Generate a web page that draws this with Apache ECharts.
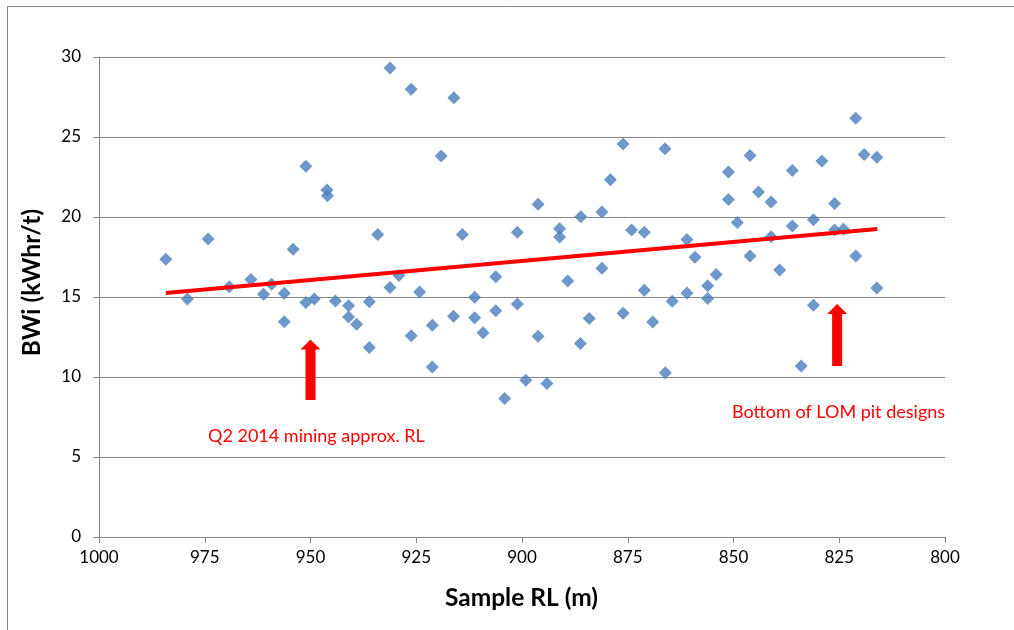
<!DOCTYPE html>
<html>
<head>
<meta charset="utf-8">
<script src="https://cdn.jsdelivr.net/npm/echarts@6/dist/echarts.min.js"></script>
<style>
html,body{margin:0;padding:0;background:#fff;}
#chart{width:1014px;height:630px;}
</style>
</head>
<body>
<div id="chart"></div>
<script>
// Sample RL (m)
const rlValues = [984.2,979.1,974.2,969.2,964.1,961.1,959.2,956.2,956.2,954.1,951.1,951.1,949.1,946.1,946.0,944.1,941.0,941.0,939.1,936.1,936.1,934.1,931.2,931.2,929.1,926.2,926.2,924.2,921.2,921.2,919.1,916.1,916.2,914.1,911.2,911.2,909.2,906.2,906.2,904.1,901.1,901.1,899.1,896.2,896.2,894.1,891.1,891.1,889.2,886.1,886.2,884.1,881.1,881.1,879.1,876.1,876.1,874.1,871.1,871.1,869.1,866.2,866.1,864.5,861.0,861.0,859.1,856.1,856.1,854.1,851.2,851.2,849.1,846.1,846.1,844.1,841.1,841.1,839.1,836.1,836.1,834.0,831.1,831.1,829.1,826.1,826.1,824.0,821.1,821.1,819.1,816.1,816.1];
// BWi (kWhr/t)
const bwiValues = [17.36,14.88,18.63,15.64,16.1,15.17,15.79,15.23,13.46,17.98,23.17,14.65,14.88,21.69,21.33,14.75,14.45,13.75,13.3,14.7,11.85,18.9,29.31,15.6,16.35,27.98,12.58,15.31,13.23,10.63,23.81,27.46,13.8,18.9,14.98,13.7,12.77,16.27,14.14,8.65,19.04,14.57,9.79,20.79,12.54,9.6,19.27,18.75,16.0,20.02,12.1,13.66,20.31,16.79,22.33,24.56,13.98,19.19,19.04,15.42,13.44,24.27,10.27,14.74,18.6,15.25,17.48,15.71,14.9,16.4,22.81,21.1,19.65,23.85,17.56,21.56,20.94,18.77,16.69,22.9,19.44,10.69,19.83,14.48,23.5,20.85,19.19,19.23,26.17,17.56,23.9,23.73,15.56];
// Linear trendline endpoints
const trendRL = [984.2, 816.0];
const trendBWi = [15.25, 19.25];
// Arrows: RL position, base value, tip value
const arrowRL = [950, 825.5];
const arrowBase = [8.56, 10.69];
const arrowTip = [12.35, 14.56];
// Axis ticks
const xTicks = [1000, 975, 950, 925, 900, 875, 850, 825, 800];
const yTicks = [0, 5, 10, 15, 20, 25, 30];
// Annotations
const noteLeft = 'Q2 2014 mining approx. RL';
const noteRight = 'Bottom of LOM pit designs';
const xTitle = 'Sample RL (m)';
const yTitle = 'BWi (kWhr/t)';

const FONT = 'Lato';
const chart = echarts.init(document.getElementById('chart'), null, {renderer:'canvas'});

const scatterData = rlValues.map((x,i)=>[x, bwiValues[i]]);
const trendData = trendRL.map((x,i)=>[x, trendBWi[i]]);
const arrowData = arrowRL.map((x,i)=>[x, arrowBase[i], arrowTip[i]]);

const option = {
  backgroundColor:'#ffffff',
  animation:false,
  grid:{left:99, top:57, right:69, bottom:93, containLabel:false},
  xAxis:{
    type:'value', inverse:true, min:xTicks[xTicks.length-1], max:xTicks[0], interval:25,
    axisLine:{show:true, lineStyle:{color:'#868686', width:1}},
    axisTick:{show:true, length:6, lineStyle:{color:'#868686'}},
    axisLabel:{color:'#000', fontFamily:FONT, fontSize:17, margin:12, formatter:v=>String(v)},
    splitLine:{show:false}
  },
  yAxis:{
    type:'value', min:yTicks[0], max:yTicks[yTicks.length-1], interval:5,
    axisLine:{show:true, lineStyle:{color:'#868686', width:1}},
    axisTick:{show:true, length:6, lineStyle:{color:'#868686'}},
    axisLabel:{color:'#000', fontFamily:FONT, fontSize:17, margin:18, formatter:v=>String(v)},
    splitLine:{show:true, lineStyle:{color:'#868686', width:1}}
  },
  series:[
    {
      type:'scatter', data:scatterData, symbol:'diamond', symbolSize:[13,13],
      itemStyle:{color:'#4A7EBB'}, z:2
    },
    {
      type:'line', data:trendData, showSymbol:false, symbol:'none',
      lineStyle:{color:'#FF0000', width:4}, z:3, silent:true
    },
    {
      type:'custom', data:arrowData, z:4, silent:true,
      renderItem:function(params, api){
        const b = api.coord([api.value(0), api.value(1)]);
        const t = api.coord([api.value(0), api.value(2)]);
        const sw = 5, hw = 10, hh = 10;
        const x = b[0];
        return {
          type:'polygon',
          shape:{points:[[x-sw,b[1]],[x-sw,t[1]+hh],[x-hw,t[1]+hh],[x,t[1]],[x+hw,t[1]+hh],[x+sw,t[1]+hh],[x+sw,b[1]]]},
          style:{fill:'#FF0000'}
        };
      }
    }
  ],
  graphic:[
    {type:'rect', shape:{x:7.5, y:6.5, width:1020, height:640}, style:{fill:null, stroke:'#868686', lineWidth:1}, z:-1, silent:true},
    {type:'text', left:208, top:427, style:{text:noteLeft, fill:'#FF0000', font:'18px Lato'}},
    {type:'text', left:732, top:403, style:{text:noteRight, fill:'#FF0000', font:'18px Lato'}},
    {type:'text', x:521.5, y:598, style:{text:xTitle, fill:'#000', font:'bold 24.5px Lato', align:'center', verticalAlign:'middle'}},
    {type:'text', x:32.5, y:282.5, rotation:Math.PI/2, style:{text:yTitle, fill:'#000', font:'bold 24.5px Lato', align:'center', verticalAlign:'middle'}}
  ]
};
chart.setOption(option);
</script>
</body>
</html>
